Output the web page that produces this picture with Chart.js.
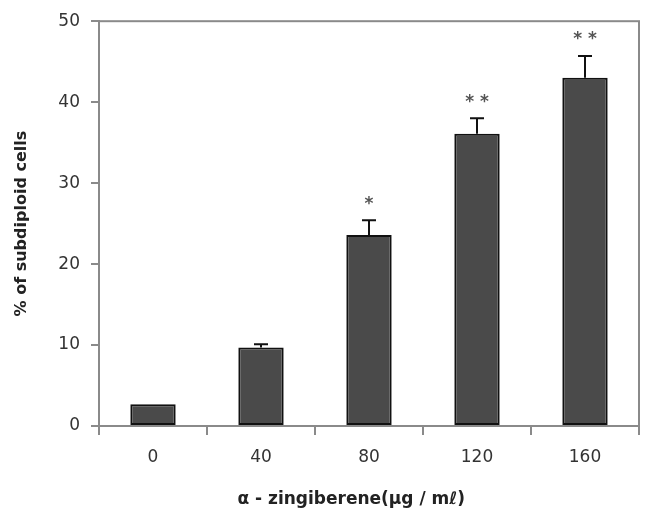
<!DOCTYPE html>
<html>
<head>
<meta charset="utf-8">
<script src="https://cdn.jsdelivr.net/npm/chart.js@4.4.1/dist/chart.umd.min.js"></script>
<style>
  html, body { margin: 0; padding: 0; background: #fff; }
  #wrap { width: 652px; height: 514px; }
</style>
</head>
<body>
<div id="wrap"><canvas id="chart" width="652" height="514"></canvas></div>
<script>
const doses = ["0", "40", "80", "120", "160"];
const subdiploid = [2.7, 9.7, 23.6, 36.1, 43.0];
const errUp = [0, 0.4, 1.8, 1.9, 2.7];
const marks = ["", "", "*", "**", "**"];

const axisGray = "#8a8a8a";
const font = "DejaVu Sans";

// upward error bars + significance stars
const extras = {
  id: "extras",
  afterDatasetsDraw(chart) {
    const ctx = chart.ctx;
    const x = chart.scales.x, y = chart.scales.y;
    ctx.save();
    ctx.strokeStyle = "#111";
    ctx.lineWidth = 2;
    subdiploid.forEach((v, i) => {
      const cx = x.getPixelForValue(i);
      if (errUp[i] > 0) {
        const y0 = y.getPixelForValue(v), y1 = y.getPixelForValue(v + errUp[i]);
        ctx.beginPath();
        ctx.moveTo(cx, y0); ctx.lineTo(cx, y1);
        ctx.moveTo(cx - 7, y1); ctx.lineTo(cx + 7, y1);
        ctx.stroke();
      }
      if (marks[i]) {
        ctx.fillStyle = "#555";
        ctx.font = "bold 17px " + font;
        ctx.textAlign = "center";
        ctx.textBaseline = "middle";
        const ty = y.getPixelForValue(v + errUp[i]) - 16;
        ctx.fillText(marks[i].split("").join(" "), cx, ty);
      }
    });
    // box around the plot
    const a = chart.chartArea;
    ctx.strokeStyle = axisGray;
    ctx.lineWidth = 2;
    ctx.strokeRect(a.left, a.top, a.right - a.left, a.bottom - a.top);
    ctx.restore();
  }
};

new Chart(document.getElementById("chart"), {
  type: "bar",
  data: {
    labels: doses,
    datasets: [{
      data: subdiploid,
      backgroundColor: "#4a4a4a",
      borderColor: "#111",
      borderWidth: 2,
      borderSkipped: false,
      categoryPercentage: 1,
      barPercentage: 0.42
    }]
  },
  options: {
    responsive: false,
    animation: false,
    layout: { padding: { left: 0, right: 13, top: 20, bottom: 0 } },
    plugins: { legend: { display: false }, tooltip: { enabled: false } },
    scales: {
      x: {
        offset: true,
        grid: { offset: true, drawOnChartArea: false, tickLength: 9, color: axisGray, lineWidth: 2 },
        border: { color: axisGray, width: 2 },
        ticks: { color: "#333", font: { family: font, size: 17 }, padding: 12 },
        title: { display: true, text: "α - zingiberene(μg / mℓ)      ", color: "#222",
                 font: { family: font, size: 17, weight: "bold" }, padding: { top: 6 } },
        afterFit(s) { s.height = 88; }
      },
      y: {
        min: 0, max: 50,
        ticks: { stepSize: 10, color: "#333", font: { family: font, size: 17 }, padding: 11 },
        grid: { drawOnChartArea: false, tickLength: 8, color: axisGray, lineWidth: 2 },
        border: { color: axisGray, width: 2 },
        title: { display: true, text: "% of subdiploid cells", color: "#222",
                 font: { family: font, size: 16, weight: "bold" }, padding: { top: 12, bottom: 0 } },
        afterFit(s) { s.width = 99; }
      }
    }
  },
  plugins: [extras]
});
</script>
</body>
</html>
